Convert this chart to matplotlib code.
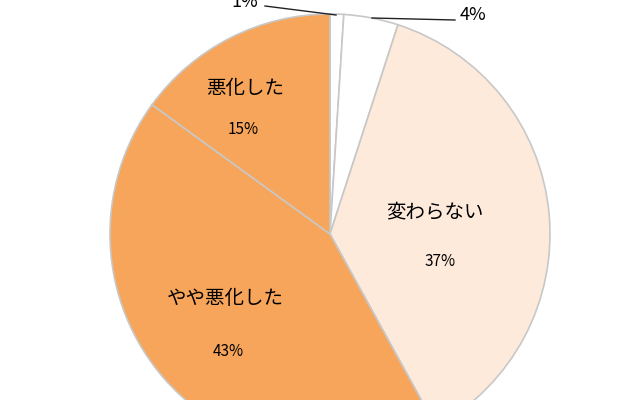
import matplotlib.pyplot as plt

labels = ["", "", "変わらない", "やや悪化した", "悪化した"]
values = [1, 4, 37, 43, 15]
pcts = ["1%", "4%", "37%", "43%", "15%"]
colors = ["#ffffff", "#ffffff", "#fdeadb", "#f7a55a", "#f7a55a"]

plt.rcParams['font.family'] = ['Noto Sans CJK JP', 'DejaVu Sans']

fig = plt.figure(figsize=(6.4, 4), dpi=100)
ax = fig.add_axes([0, 0, 1, 1])
ax.set_xlim(0, 640)
ax.set_ylim(0, 400)
ax.set_aspect('equal')
ax.axis('off')

cx, cy, r = 330, 166, 220
ax.pie(values, colors=colors, startangle=90, counterclock=False,
       center=(cx, cy), radius=r, frame=True,
       wedgeprops=dict(edgecolor="#c8c8c8", linewidth=1.2))
ax.set_xlim(0, 640)
ax.set_ylim(0, 400)
ax.axis('off')

# labels inside slices
ax.text(435, 188, labels[2], fontsize=14, ha='center', va='center')
ax.text(440, 138, pcts[2], fontsize=11, ha='center', va='center')
ax.text(225, 102, labels[3], fontsize=14, ha='center', va='center')
ax.text(228, 48, pcts[3], fontsize=11, ha='center', va='center')
ax.text(245, 312, labels[4], fontsize=14, ha='center', va='center')
ax.text(243, 270, pcts[4], fontsize=11, ha='center', va='center')

# outside labels with leader lines
ax.plot([265, 336], [394, 385], color='#222222', lw=1)
ax.text(258, 398, pcts[0], fontsize=13, ha='right', va='center')
ax.plot([372, 455], [382, 380], color='#222222', lw=1)
ax.text(460, 385, pcts[1], fontsize=13, ha='left', va='center')

fig.savefig("out.png", dpi=100)
